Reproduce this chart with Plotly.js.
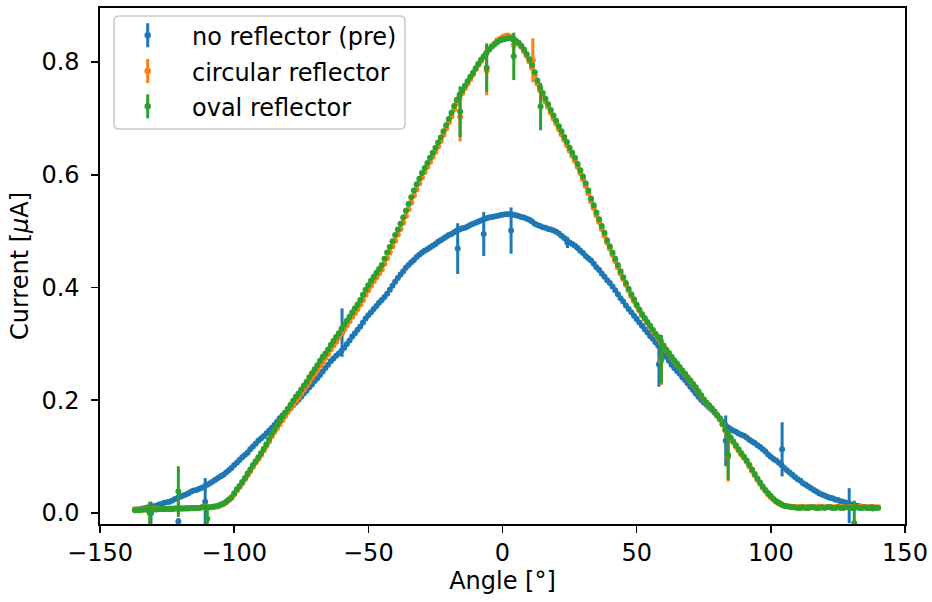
<!DOCTYPE html>
<html>
<head>
<meta charset="utf-8">
<script src="https://cdn.plot.ly/plotly-3.0.1.min.js"></script>
<style>html,body{margin:0;padding:0;background:#fff;}#chart{width:932px;height:602px;}</style>
</head>
<body>
<div id="chart"></div>
<script>
// ---- data, one value per degree ----
const angles = [
-137,-136,-135,-134,-133,-132,-131,-130,-129,-128,
-127,-126,-125,-124,-123,-122,-121,-120,-119,-118,
-117,-116,-115,-114,-113,-112,-111,-110,-109,-108,
-107,-106,-105,-104,-103,-102,-101,-100,-99,-98,
-97,-96,-95,-94,-93,-92,-91,-90,-89,-88,
-87,-86,-85,-84,-83,-82,-81,-80,-79,-78,
-77,-76,-75,-74,-73,-72,-71,-70,-69,-68,
-67,-66,-65,-64,-63,-62,-61,-60,-59,-58,
-57,-56,-55,-54,-53,-52,-51,-50,-49,-48,
-47,-46,-45,-44,-43,-42,-41,-40,-39,-38,
-37,-36,-35,-34,-33,-32,-31,-30,-29,-28,
-27,-26,-25,-24,-23,-22,-21,-20,-19,-18,
-17,-16,-15,-14,-13,-12,-11,-10,-9,-8,
-7,-6,-5,-4,-3,-2,-1,0,1,2,
3,4,5,6,7,8,9,10,11,12,
13,14,15,16,17,18,19,20,21,22,
23,24,25,26,27,28,29,30,31,32,
33,34,35,36,37,38,39,40,41,42,
43,44,45,46,47,48,49,50,51,52,
53,54,55,56,57,58,59,60,61,62,
63,64,65,66,67,68,69,70,71,72,
73,74,75,76,77,78,79,80,81,82,
83,84,85,86,87,88,89,90,91,92,
93,94,95,96,97,98,99,100,101,102,
103,104,105,106,107,108,109,110,111,112,
113,114,115,116,117,118,119,120,121,122,
123,124,125,126,127,128,129,130,131,132,
133,134,135,136,137,138,139,140];

const noReflector = [
.006,.006,.007,.008,.009,.010,.011,.012,.013,.015,
.016,.018,.019,.020,.022,.025,.027,.029,.031,.033,
.035,.038,.040,.041,.043,.045,.047,.050,.053,.056,
.059,.062,.065,.068,.072,.076,.080,.085,.089,.094,
.099,.103,.107,.113,.118,.123,.128,.132,.136,.141,
.146,.151,.156,.162,.168,.173,.178,.182,.186,.191,
.196,.201,.206,.212,.217,.223,.228,.234,.239,.245,
.251,.257,.263,.269,.274,.279,.283,.288,.293,.300,
.306,.313,.319,.325,.331,.338,.345,.351,.356,.362,
.367,.373,.378,.383,.389,.396,.403,.410,.417,.423,
.429,.435,.440,.445,.449,.454,.458,.462,.465,.468,
.471,.474,.477,.481,.484,.487,.490,.493,.495,.498,
.501,.503,.505,.506,.508,.511,.513,.515,.517,.519,
.521,.523,.524,.525,.526,.527,.528,.529,.530,.530,
.530,.529,.528,.527,.525,.524,.522,.520,.517,.513,
.511,.509,.507,.506,.504,.503,.501,.499,.496,.492,
.488,.484,.480,.477,.474,.470,.465,.461,.456,.452,
.448,.442,.436,.431,.425,.419,.413,.408,.402,.395,
.388,.381,.375,.368,.362,.356,.350,.344,.338,.332,
.326,.320,.314,.309,.303,.297,.291,.284,.277,.270,
.263,.257,.252,.247,.241,.236,.230,.224,.218,.212,
.206,.201,.196,.192,.187,.183,.178,.173,.168,.162,
.156,.152,.149,.146,.144,.141,.139,.137,.134,.130,
.127,.124,.120,.117,.113,.109,.104,.100,.096,.093,
.089,.085,.080,.076,.072,.068,.064,.060,.057,.053,
.050,.047,.044,.041,.038,.035,.033,.031,.029,.027,
.026,.024,.023,.021,.020,.018,.017,.015,.014,.013,
.012,.011,.010,.009,.009,.008,null,null];

const circular = [
.006,.006,.006,.006,.006,.007,.007,.007,.007,.007,
.007,.007,.007,.008,.008,.008,.008,.008,.008,.009,
.009,.009,.009,.009,.009,.010,.010,.010,.010,.010,
.011,.012,.014,.016,.019,.023,.027,.033,.040,.046,
.053,.060,.067,.074,.082,.089,.096,.103,.111,.119,
.127,.136,.144,.151,.158,.165,.172,.179,.186,.192,
.199,.205,.212,.219,.226,.233,.240,.247,.254,.261,
.268,.275,.282,.290,.297,.304,.311,.319,.326,.333,
.340,.348,.355,.362,.370,.378,.387,.395,.403,.411,
.418,.425,.432,.442,.452,.462,.473,.483,.494,.504,
.515,.527,.539,.551,.563,.574,.585,.595,.605,.614,
.623,.632,.641,.650,.660,.671,.682,.693,.704,.716,
.727,.737,.745,.754,.762,.770,.778,.787,.795,.802,
.809,.816,.822,.828,.833,.838,.841,.844,.846,.847,
.845,.842,.838,.833,.827,.819,.811,.801,.790,.776,
.762,.750,.740,.730,.720,.710,.700,.691,.681,.672,
.662,.653,.643,.634,.625,.614,.603,.592,.580,.567,
.553,.541,.528,.516,.504,.492,.480,.469,.458,.447,
.436,.425,.415,.405,.395,.385,.376,.367,.359,.351,
.344,.337,.330,.323,.316,.310,.303,.296,.289,.283,
.276,.270,.264,.258,.252,.246,.240,.234,.228,.222,
.215,.208,.201,.195,.190,.185,.179,.173,.166,.157,
.147,.140,.133,.126,.118,.111,.104,.098,.091,.083,
.075,.067,.059,.052,.045,.039,.033,.028,.024,.020,
.017,.015,.013,.012,.011,.011,.010,.010,.011,.010,
.010,.011,.010,.010,.010,.011,.010,.010,.010,.011,
.010,.010,.011,.010,.010,.010,.011,.010,.010,.010,
.011,.010,.010,.010,.011,.010,.010,.010];

const oval = [
.005,.005,.005,.006,.006,.006,.006,.006,.006,.007,
.007,.007,.007,.007,.007,.008,.008,.008,.008,.008,
.008,.009,.009,.009,.009,.010,.010,.010,.010,.011,
.012,.013,.015,.017,.020,.024,.028,.035,.042,.048,
.055,.062,.070,.077,.085,.092,.099,.106,.114,.122,
.131,.140,.148,.156,.163,.171,.178,.185,.192,.199,
.206,.212,.219,.226,.233,.241,.248,.255,.262,.270,
.277,.283,.290,.298,.305,.312,.319,.327,.334,.341,
.348,.356,.363,.370,.378,.387,.396,.404,.412,.419,
.426,.433,.440,.451,.462,.472,.482,.493,.503,.513,
.524,.536,.548,.560,.572,.583,.593,.603,.612,.621,
.630,.639,.648,.657,.666,.677,.688,.699,.710,.722,
.733,.742,.750,.758,.766,.774,.781,.789,.797,.804,
.810,.816,.822,.827,.831,.835,.838,.840,.841,.842,
.842,.840,.837,.834,.829,.822,.814,.805,.795,.782,
.767,.755,.745,.735,.725,.715,.705,.696,.686,.677,
.667,.658,.648,.639,.630,.619,.608,.597,.585,.572,
.558,.546,.533,.521,.509,.497,.484,.473,.462,.451,
.440,.429,.418,.408,.398,.388,.379,.370,.361,.353,
.346,.339,.332,.325,.318,.312,.305,.297,.290,.284,
.277,.271,.265,.259,.253,.247,.241,.235,.229,.223,
.216,.209,.202,.196,.191,.186,.180,.174,.167,.158,
.148,.141,.134,.127,.120,.113,.106,.100,.093,.085,
.077,.069,.061,.054,.047,.041,.035,.030,.025,.021,
.018,.015,.013,.012,.011,.010,.010,.009,.009,.010,
.009,.009,.010,.010,.009,.009,.010,.009,.010,.010,
.009,.009,.010,.009,.009,.010,.010,.009,.009,.010,
.009,.009,.010,.009,.009,.010,.009,.009];

// points that carry a visible error bar
const noReflErrAngles = [-131,-120.8,-110.8,-59.8,-16.7,-7,3.2,24.2,58.3,83.2,104.2,129.2];
const noReflErrValues = [0.0,-0.015,0.020,0.320,0.469,0.495,0.501,0.480,0.264,0.128,0.113,0.013];
const noReflErrSizes  = [0.020,0.006,0.042,0.043,0.045,0.039,0.041,0.010,0.040,0.045,0.048,0.031];

const circErrAngles = [-120.8,-15.8,-5.9,4.2,11.3,59.2,84.1];
const circErrValues = [0.009,0.703,0.785,0.830,0.803,0.270,0.100];
const circErrSizes  = [0.010,0.044,0.044,0.015,0.039,0.043,0.044];

const ovalErrAngles = [-131.5,-120.8,-110,-15.8,-5.9,4.2,14.2,59.2,84.1,131.1];
const ovalErrValues = [0.0,0.038,-0.010,0.712,0.790,0.810,0.721,0.273,0.103,-0.018];
const ovalErrSizes  = [0.020,0.045,0.021,0.045,0.043,0.042,0.042,0.043,0.044,0.040];

const seriesNames = ['no reflector (pre)','circular reflector','oval reflector'];
const colors = ['#1f77b4','#ff7f0e','#2ca02c'];

// ---- traces ----
const FONT = 'DejaVu Sans, Verdana, sans-serif';
const FS = 24;
const MS = 6;
function mainTrace(y, i){
  return {x: angles, y: y, type:'scatter', mode:'markers', name: seriesNames[i], showlegend:false,
    marker:{color: colors[i], size: MS, line:{width:0}}};
}
function errTrace(xs, ys, es, i){
  return {x: xs, y: ys, type:'scatter', mode:'markers', name: seriesNames[i], showlegend:false,
    marker:{color: colors[i], size: MS, line:{width:0}},
    error_y:{type:'data', array: es, visible:true, color: colors[i], thickness:3, width:0}};
}
const data = [
  mainTrace(noReflector,0), errTrace(noReflErrAngles,noReflErrValues,noReflErrSizes,0),
  mainTrace(circular,1), errTrace(circErrAngles,circErrValues,circErrSizes,1),
  mainTrace(oval,2), errTrace(ovalErrAngles,ovalErrValues,ovalErrSizes,2)
];

// ---- matplotlib-like legend box ----
const PL = 100, PR = 905, PT = 8, PB = 524;
const px = v => (v - PL) / (PR - PL);
const py = v => (PB - v) / (PB - PT);
function roundRect(x0,y0,x1,y1,r){
  const X = v=>px(v).toFixed(5), Y = v=>py(v).toFixed(5);
  return `M ${X(x0+r)},${Y(y0)} L ${X(x1-r)},${Y(y0)} Q ${X(x1)},${Y(y0)} ${X(x1)},${Y(y0+r)} L ${X(x1)},${Y(y1-r)} Q ${X(x1)},${Y(y1)} ${X(x1-r)},${Y(y1)} L ${X(x0+r)},${Y(y1)} Q ${X(x0)},${Y(y1)} ${X(x0)},${Y(y1-r)} L ${X(x0)},${Y(y0+r)} Q ${X(x0)},${Y(y0)} ${X(x0+r)},${Y(y0)} Z`;
}
const shapes = [{type:'path', xref:'paper', yref:'paper', path: roundRect(114,16,405,129,5),
  fillcolor:'rgba(255,255,255,0.8)', line:{color:'#cccccc', width:1.6}, layer:'above'}];
const annotations = [];
const rowY = [35.3, 71, 106.3];
const symX = 147.7;
for (let i=0;i<3;i++){
  const cy = rowY[i];
  shapes.push({type:'line', xref:'paper', yref:'paper', x0:px(symX), x1:px(symX), y0:py(cy-12), y1:py(cy+12),
    line:{color:colors[i], width:3}, layer:'above'});
  shapes.push({type:'circle', xref:'paper', yref:'paper', x0:px(symX-3.25), x1:px(symX+3.25), y0:py(cy+3.25), y1:py(cy-3.25),
    fillcolor:colors[i], line:{width:0}, layer:'above'});
  annotations.push({xref:'paper', yref:'paper', x:px(190), y:py(cy+1.5), xanchor:'left', yanchor:'middle',
    text: seriesNames[i], showarrow:false, font:{family:FONT, size:FS, color:'#000'}});
}

const layout = {
  width:932, height:602,
  margin:{l:PL, r:932-PR, t:PT, b:602-PB, pad:0},
  paper_bgcolor:'#fff', plot_bgcolor:'#fff',
  font:{family:FONT, size:FS, color:'#000'},
  showlegend:false,
  xaxis:{range:[-150,150], dtick:50, tick0:0, ticks:'outside', ticklen:7, tickwidth:1.6, tickcolor:'#000',
    showline:true, linecolor:'#000', linewidth:1.6, mirror:true, showgrid:false, zeroline:false,
    tickfont:{family:FONT, size:FS, color:'#000'},
    title:{text:'Angle [°]', font:{family:FONT, size:FS, color:'#000'}, standoff:6}},
  yaxis:{range:[-0.0195,0.8958], dtick:0.2, tick0:0, tickformat:'.1f', ticks:'outside', ticklen:7, tickwidth:1.6, tickcolor:'#000',
    showline:true, linecolor:'#000', linewidth:1.6, mirror:true, showgrid:false, zeroline:false,
    ticklabelstandoff:7,
    tickfont:{family:FONT, size:FS, color:'#000'},
    title:{text:'Current [<i>μ</i>A]', font:{family:FONT, size:FS, color:'#000'}, standoff:6}},
  shapes: shapes,
  annotations: annotations
};

Plotly.newPlot('chart', data, layout, {displayModeBar:false, staticPlot:true});
</script>
</body>
</html>
